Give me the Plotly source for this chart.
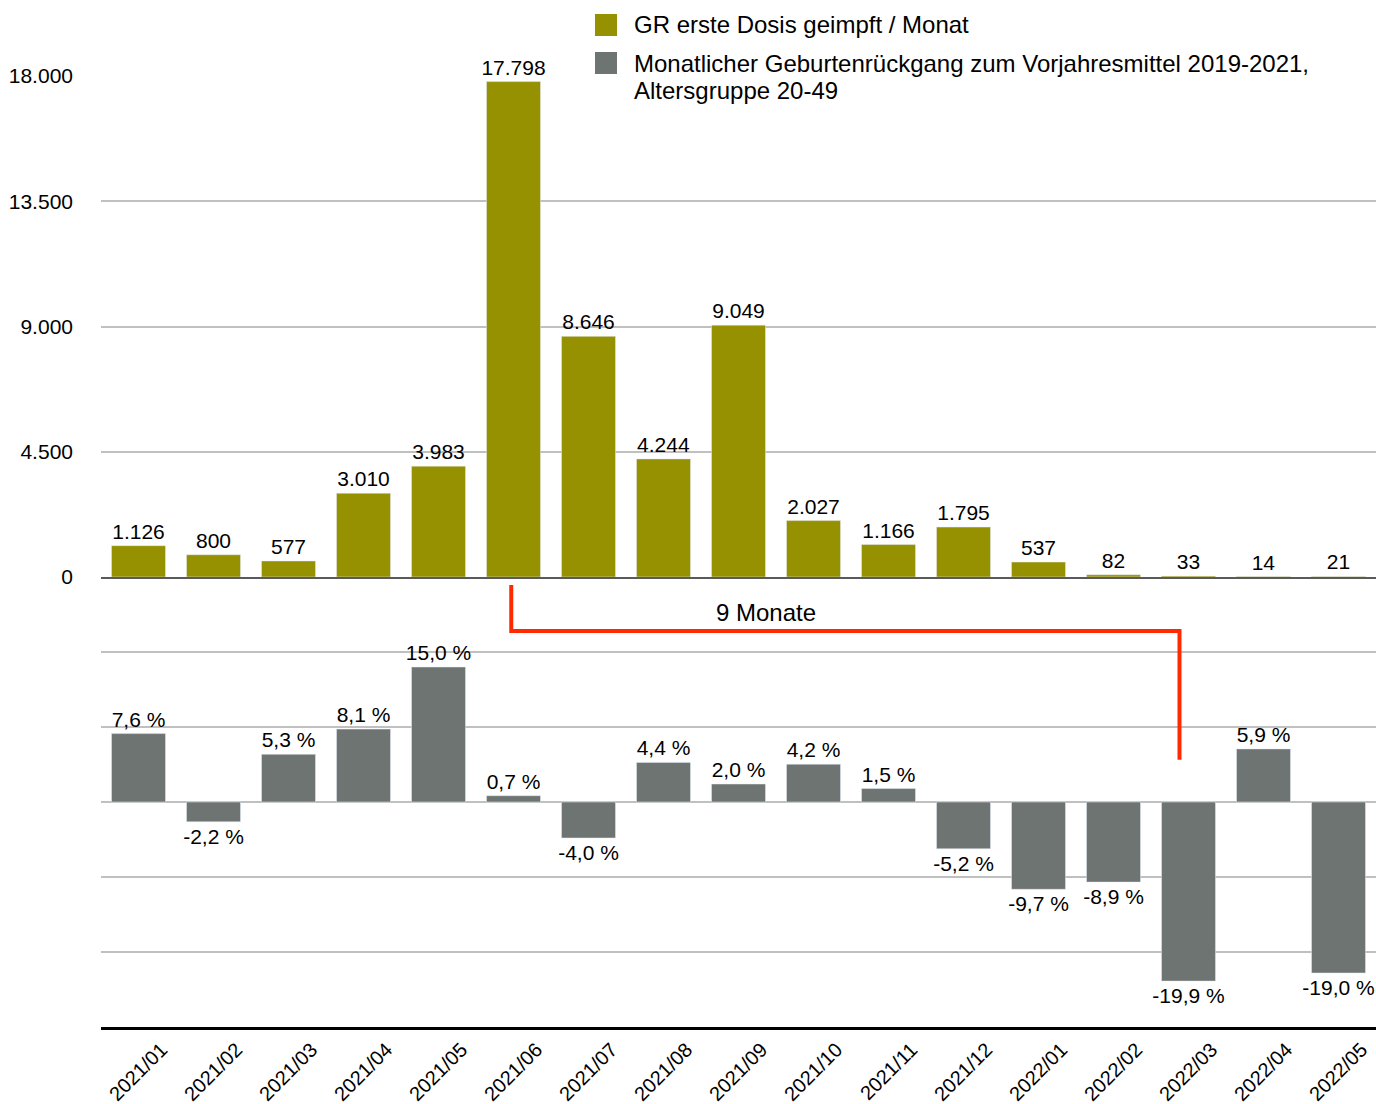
import plotly.graph_objects as go

months = ["2021/01", "2021/02", "2021/03", "2021/04", "2021/05", "2021/06", "2021/07",
          "2021/08", "2021/09", "2021/10", "2021/11", "2021/12", "2022/01", "2022/02",
          "2022/03", "2022/04", "2022/05"]
first_doses = [1126, 800, 577, 3010, 3983, 17798, 8646, 4244, 9049, 2027, 1166, 1795,
               537, 82, 33, 14, 21]
birth_change = [7.6, -2.2, 5.3, 8.1, 15.0, 0.7, -4.0, 4.4, 2.0, 4.2, 1.5, -5.2, -9.7,
                -8.9, -19.9, 5.9, -19.0]
top_ticks = [0, 4500, 9000, 13500, 18000]
legend_labels = ["GR erste Dosis geimpft / Monat",
                 "Monatlicher Geburtenrückgang zum Vorjahresmittel 2019-2021,",
                 "Altersgruppe 20-49"]
gap_label = "9 Monate"

OLIVE = "#969100"
GREY = "#6e7471"
RED = "#ff2a00"
GRID = "#c0c0c0"
FONT = "Liberation Sans, Arial, sans-serif"

W, H = 1376, 1104
L, R, T, B = 101, 0, 76, 77
PW, PH = W - L - R, H - T - B
y_split = 450 / PH


def px_x(p):
    return (p - L) / PW


def px_y(p):
    return (H - B - p) / PH


def de_int(v):
    return f"{v:,}".replace(",", ".")


def de_pct(v):
    return f"{v:.1f} %".replace(".", ",")


fig = go.Figure()
fig.add_trace(go.Bar(
    x=months, y=first_doses, xaxis="x", yaxis="y", marker_color=OLIVE,
    text=[de_int(v) for v in first_doses], textposition="outside",
    constraintext="none",
    textfont=dict(size=21, color="black", family=FONT), cliponaxis=False,
    showlegend=False, hoverinfo="x+y"))
fig.add_trace(go.Bar(
    x=months, y=birth_change, xaxis="x2", yaxis="y2", marker_color=GREY,
    text=[de_pct(v) for v in birth_change], textposition="outside",
    constraintext="none",
    textfont=dict(size=21, color="black", family=FONT), cliponaxis=False,
    showlegend=False, hoverinfo="x+y"))

fig.update_layout(
    width=W, height=H,
    margin=dict(l=L, r=R, t=T, b=B, autoexpand=False),
    paper_bgcolor="white", plot_bgcolor="white",
    font=dict(family=FONT, size=20, color="black"),
    bargap=0.28,
    xaxis=dict(domain=[0, 1], anchor="y", matches="x2", showticklabels=False,
               showline=True, linecolor="#5a5a5a", linewidth=2, showgrid=False,
               ticks=""),
    yaxis=dict(domain=[y_split, 1], range=[0, 18000], tickvals=top_ticks,
               ticktext=[de_int(v) for v in top_ticks], showgrid=True,
               gridcolor=GRID, gridwidth=1.5, zeroline=False, ticks="",
               ticklabelstandoff=27, tickfont=dict(size=21)),
    xaxis2=dict(domain=[0, 1], anchor="y2", showline=True, linecolor="black",
                linewidth=3, showgrid=False, ticks="", tickangle=-45,
                ticklabelshift=23, tickfont=dict(size=20)),
    yaxis2=dict(domain=[0, y_split], range=[-25, 25],
                tickvals=[-25, -50 / 3, -25 / 3, 0, 25 / 3, 50 / 3, 25],
                showticklabels=False, showgrid=True, gridcolor=GRID, gridwidth=1.5,
                zeroline=False, ticks=""),
)

# red bracket between 2021/06 and 2022/03
fig.add_shape(type="path", xref="x2", yref="y2",
              path="M 4.97,24.1 L 4.97,19.0 L 13.88,19.0 L 13.88,4.7",
              line=dict(color=RED, width=4))
fig.add_annotation(x=8.36, y=21.1, xref="x2", yref="y2", text=gap_label,
                   showarrow=False, font=dict(size=24, color="black"))

# manual legend
for top_px, color in [(14, OLIVE), (52, GREY)]:
    fig.add_shape(type="rect", xref="paper", yref="paper",
                  x0=px_x(595), x1=px_x(617), y0=px_y(top_px + 22), y1=px_y(top_px),
                  fillcolor=color, line=dict(width=0))
for text, cy in [(legend_labels[0], 25), (legend_labels[1], 63), (legend_labels[2], 90)]:
    fig.add_annotation(x=px_x(632), y=px_y(cy), xref="paper", yref="paper",
                       xanchor="left", yanchor="middle", text=text, showarrow=False,
                       font=dict(size=24, color="black"))

fig.write_html("out.html", config={"displayModeBar": False},
               post_script="document.body.style.margin='0';"
                           "document.body.style.overflow='hidden';")
